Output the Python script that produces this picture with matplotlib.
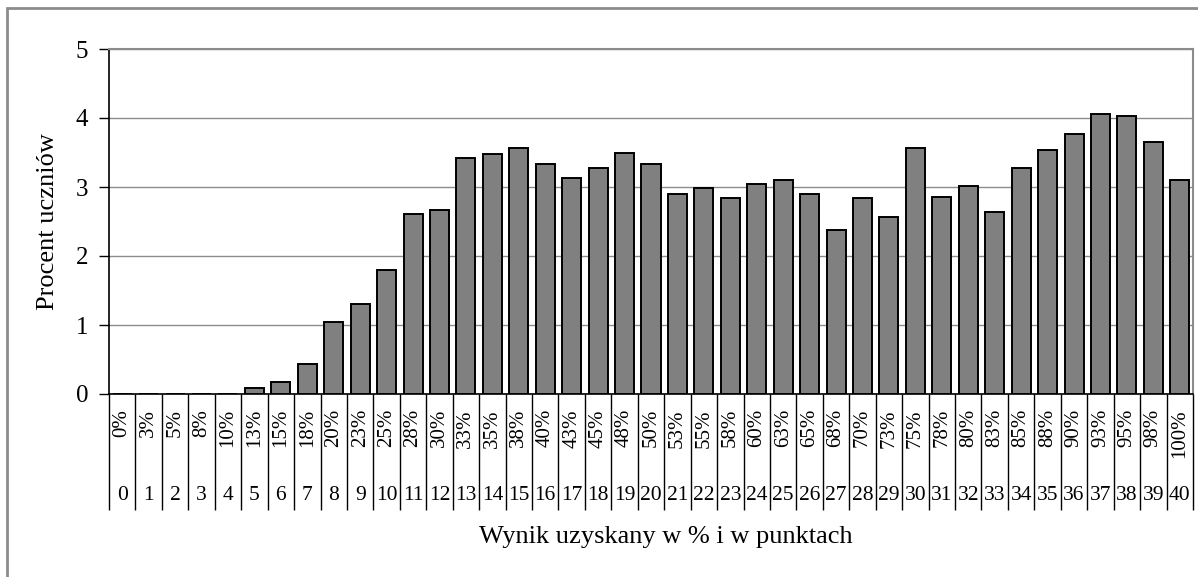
import matplotlib
matplotlib.use('Agg')
import matplotlib.pyplot as plt
import matplotlib.transforms as mtransforms
from matplotlib.patches import Rectangle

plt.rcParams['font.family'] = ['Liberation Serif', 'DejaVu Serif']

# data
points = list(range(41))
pct_labels = ['0%', '3%', '5%', '8%', '10%', '13%', '15%', '18%', '20%', '23%',
              '25%', '28%', '30%', '33%', '35%', '38%', '40%', '43%', '45%', '48%',
              '50%', '53%', '55%', '58%', '60%', '63%', '65%', '68%', '70%', '73%',
              '75%', '78%', '80%', '83%', '85%', '88%', '90%', '93%', '95%', '98%',
              '100%']
share = [0, 0, 0, 0, 0, 0.09, 0.17, 0.43, 1.04, 1.30,
         1.79, 2.61, 2.67, 3.42, 3.48, 3.56, 3.33, 3.13, 3.27, 3.50,
         3.33, 2.90, 2.98, 2.84, 3.04, 3.10, 2.90, 2.38, 2.84, 2.57,
         3.56, 2.86, 3.01, 2.64, 3.27, 3.53, 3.77, 4.06, 4.03, 3.65,
         3.10]
y_ticks = [0, 1, 2, 3, 4, 5]

W, H = 1198, 577
fig = plt.figure(figsize=(W / 100, H / 100), dpi=100)

# chart-area border (only top/left visible, cropped on the other sides)
fig.patches.append(Rectangle((7 / W, -0.1), 1.2, (H - 8) / H + 0.1,
                             transform=fig.transFigure, fill=False,
                             edgecolor='#8c8c8c', linewidth=2))

left, right, top, zero = 109, 1193, 49, 394
ax = fig.add_axes([left / W, (H - zero) / H, (right - left) / W, (zero - top) / H])

ax.bar(points, share, width=0.72, color='#808080', edgecolor='black', linewidth=1.4, zorder=3)

ax.set_xlim(-0.5, len(points) - 0.5)
ax.set_ylim(0, 5)
ax.set_yticks(y_ticks)
ax.set_yticklabels([str(t) for t in y_ticks], fontsize=18)
ax.set_xticks([])
ax.yaxis.grid(True, color='#8c8c8c', linewidth=1, zorder=0)
ax.tick_params(axis='y', length=7, width=1, direction='out', pad=8)

for s in ('top', 'right'):
    ax.spines[s].set_color('#8c8c8c')
    ax.spines[s].set_linewidth(1.5)
ax.spines['left'].set_color('black')
ax.spines['bottom'].set_color('black')
ax.spines['left'].set_linewidth(1.2)
ax.spines['bottom'].set_linewidth(1.2)

# category table under the axis
ph = zero - top
trans = mtransforms.blended_transform_factory(ax.transData, ax.transAxes)
bottom_y = -(510 - zero) / ph
bounds = [p - 0.5 for p in points] + [points[-1] + 0.5]
ax.vlines(bounds, bottom_y, 0, transform=trans, colors='black', linewidth=1, clip_on=False)

pct_y = -(409 - zero) / ph
num_y = -(495 - zero) / ph
for p, lab in zip(points, pct_labels):
    ax.text(p, pct_y, lab, transform=trans, rotation=90, ha='center', va='top', fontsize=15)
    ax.text(p, num_y, str(p), transform=trans, ha='center', va='center', fontsize=15.5)

ax.set_ylabel('Procent uczniów', fontsize=19, labelpad=12)
fig.text(666 / W, 1 - 537 / H, 'Wynik uzyskany w % i w punktach', ha='center', va='center', fontsize=19)

fig.savefig('out.png', dpi=100)
